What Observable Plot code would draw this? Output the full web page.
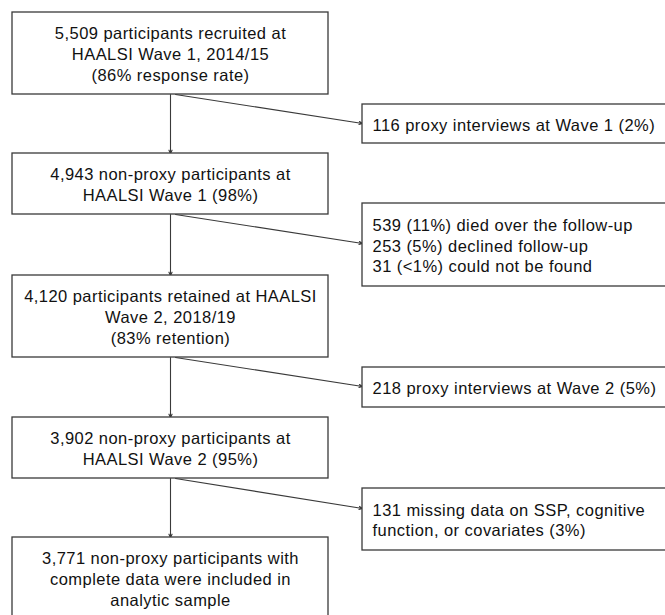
<!DOCTYPE html>
<html>
<head>
<meta charset="utf-8">
<script src="https://cdn.jsdelivr.net/npm/d3@7"></script>
<script src="https://cdn.jsdelivr.net/npm/@observablehq/plot@0.6"></script>
<style>
  html, body { margin: 0; padding: 0; background: #fff; overflow: hidden; }
  #chart svg { display: block; }
  #chart svg text { letter-spacing: 0.45px; }
</style>
</head>
<body>
<div id="chart"></div>
<script>
// ---- Data: flow stages (main column) ----
const mainLabels = [
  "5,509 participants recruited at\nHAALSI Wave 1, 2014/15\n(86% response rate)",
  "4,943 non-proxy participants at\nHAALSI Wave 1 (98%)",
  "4,120 participants retained at HAALSI\nWave 2, 2018/19\n(83% retention)",
  "3,902 non-proxy participants at\nHAALSI Wave 2 (95%)",
  "3,771 non-proxy participants with\ncomplete data were included in\nanalytic sample"
];
// ---- Data: exclusions (side column) ----
const sideLabels = [
  "116 proxy interviews at Wave 1 (2%)",
  "539 (11%) died over the follow-up\n253 (5%) declined follow-up\n31 (<1%) could not be found",
  "218 proxy interviews at Wave 2 (5%)",
  "131 missing data on SSP, cognitive\nfunction, or covariates (3%)"
];

// ---- Layout (diagram geometry, in the 665 x 615 frame) ----
const mainBox = {x1: 12, x2: 328, top: [12, 153, 275, 417, 537], bottom: [94, 214, 357, 478, 619]};
const sideBox = {x1: 362, x2: 670, top: [104, 203, 367, 488], bottom: [143, 286, 407, 550], arrowY: [123, 243, 386, 508]};
const stemX = 170, branchX = 175, textPadLeft = 10;

const mains = mainLabels.map((label, i) => ({
  label, x1: mainBox.x1, x2: mainBox.x2, y1: mainBox.top[i], y2: mainBox.bottom[i],
  cx: (mainBox.x1 + mainBox.x2) / 2,
  cy: i === mainLabels.length - 1 ? mainBox.top[i] + 41 : (mainBox.top[i] + mainBox.bottom[i]) / 2
}));
const sides = sideLabels.map((label, i) => ({
  label, x1: sideBox.x1, x2: sideBox.x2, y1: sideBox.top[i], y2: sideBox.bottom[i],
  tx: sideBox.x1 + textPadLeft, cy: (sideBox.top[i] + sideBox.bottom[i]) / 2
}));
const downArrows = mains.slice(0, -1).map((m, i) => ({x1: stemX, y1: m.y2, x2: stemX, y2: mains[i + 1].y1}));
const sideArrows = sides.map((s, i) => ({x1: branchX, y1: mains[i].y2, x2: s.x1, y2: sideBox.arrowY[i]}));

const font = "'Liberation Sans', Arial, Helvetica, sans-serif";
const stroke = "#3a3a3a";
const fs = 16.5;

const chart = Plot.plot({
  width: 665,
  height: 615,
  margin: 0,
  style: {background: "#fff", fontFamily: font, overflow: "hidden"},
  x: {domain: [0, 665], axis: null},
  y: {domain: [0, 615], reverse: true, axis: null},
  marks: [
    Plot.arrow(downArrows, {x1: "x1", y1: "y1", x2: "x2", y2: "y2", stroke, strokeWidth: 1.1, headLength: 5, headAngle: 50}),
    Plot.arrow(sideArrows, {x1: "x1", y1: "y1", x2: "x2", y2: "y2", stroke, strokeWidth: 1.1, headLength: 5, headAngle: 50}),
    Plot.rect(mains, {x1: "x1", x2: "x2", y1: "y1", y2: "y2", fill: "white", stroke, strokeWidth: 1.3}),
    Plot.rect(sides, {x1: "x1", x2: "x2", y1: "y1", y2: "y2", fill: "white", stroke, strokeWidth: 1.3}),
    Plot.text(mains, {x: "cx", y: "cy", text: "label", textAnchor: "middle", lineAnchor: "middle", lineHeight: 21 / fs, fontSize: fs, fill: "#111"}),
    Plot.text(sides, {x: "tx", y: "cy", text: "label", textAnchor: "start", lineAnchor: "middle", lineHeight: 20.5 / fs, fontSize: fs, fill: "#111"})
  ]
});
document.getElementById("chart").appendChild(chart);
</script>
</body>
</html>
